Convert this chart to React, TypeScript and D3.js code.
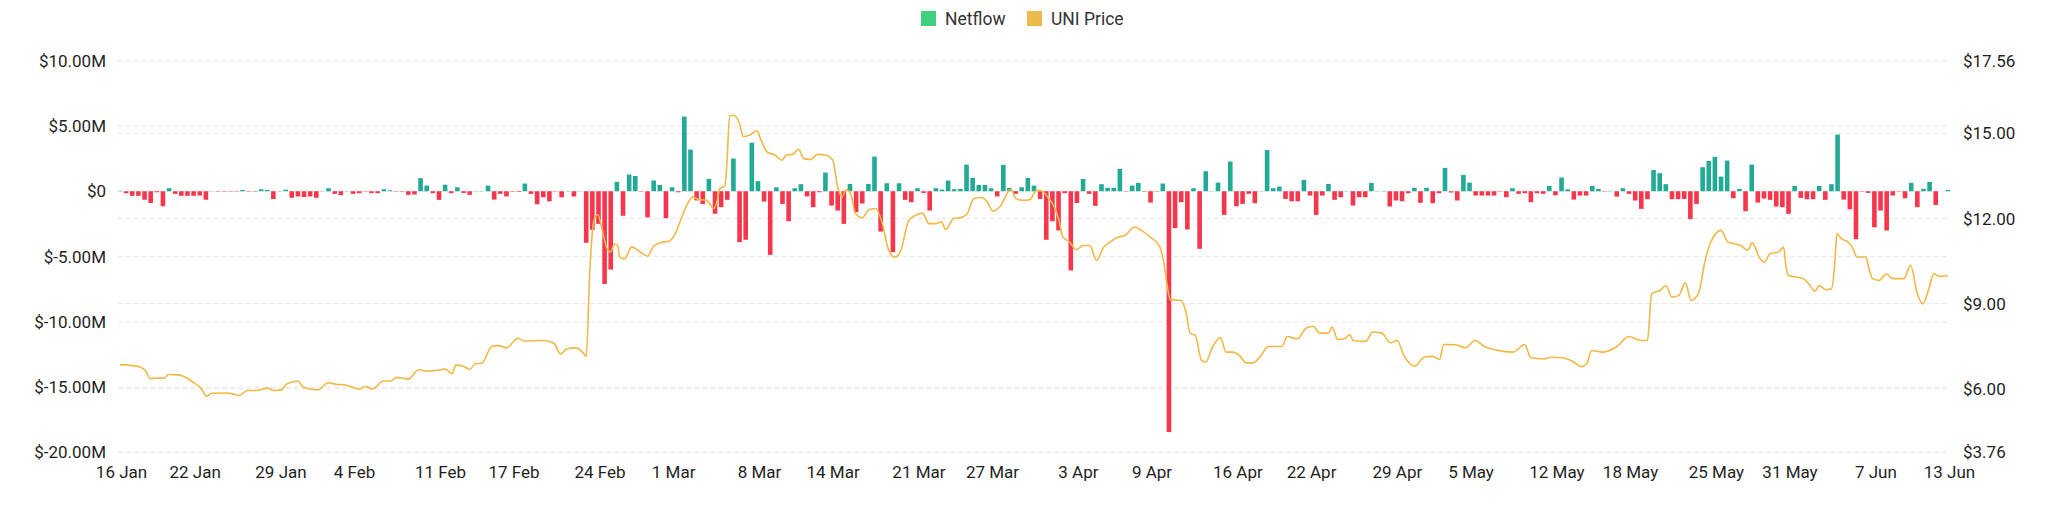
import React from "react";
import * as d3 from "d3";

// one netflow bar every 12 hours, first at 16 Jan 00:00
const START = "2024-01-16";
const END = "2024-06-13";

// Netflow, USD millions
const netflow = [
  0.03, -0.15, -0.35, -0.35, -0.65, -0.9, -0.08, -1.15, 0.23, -0.2,
  -0.35, -0.35, -0.35, -0.33, -0.65, 0.02, -0.03, -0.03, -0.03, -0.03,
  0.1, -0.03, -0.03, 0.15, 0.1, -0.6, 0.02, 0.12, -0.5, -0.4,
  -0.45, -0.4, -0.5, 0.02, 0.23, -0.2, -0.3, 0.02, -0.2, -0.15,
  -0.03, -0.15, -0.15, 0.15, 0.07, -0.03, -0.03, -0.28, -0.25, 1.0,
  0.43, -0.15, -0.66, 0.5, -0.15, 0.3, -0.13, -0.28, 0.02, 0.02,
  0.43, -0.64, -0.2, -0.4, -0.03, -0.05, 0.59, -0.2, -1.0, -0.46,
  -0.77, -0.03, -0.46, 0.02, -0.4, 0.02, -3.95, -2.96, -2.5, -7.1,
  -6.0, 0.72, -1.88, 1.28, 1.17, -0.03, -2.0, 0.82, 0.48, -2.06,
  0.3, -0.08, 5.72,
  3.19, -0.7, -0.98, 0.95, -1.73, -1.22, -0.66, 2.5, -3.9, -3.72,
  3.72, 0.77, -0.79, -4.87, 0.3, -0.97, -2.3, 0.23, 0.54, -0.4,
  -1.22, -0.08, 1.43, -1.1, -1.48, -2.5, 0.56, -1.6, -0.94, 0.56,
  2.65, -3.09, 0.61, -4.67, 0.61, -0.66, -0.84, 0.23, -0.13, -1.48,
  0.23, 0.13, 0.82, 0.15, 0.18, 2.04, 1.02, 0.48, 0.48, 0.23,
  -0.4, 2.02, 0.26, -0.2, 0.3, 1.02, 0.43, -0.59, -3.72, -2.3,
  -3.0, -0.15, -6.07, -0.9, 0.94, -0.2, -1.12, 0.54, 0.26, 0.26,
  1.71, -0.03, 0.43, 0.64, -0.03, -0.87, -0.03, 0.59, -18.45, -2.83,
  -0.84, -2.93, 0.23, -4.41, 1.53, 0.02, 0.66, -1.81, 2.27, -1.15,
  -0.97, -0.2, -0.92, 0.02, 3.16, 0.23, 0.36, -0.59, -0.77, -0.77,
  0.87, -0.33, -1.81, -0.33, 0.56, -0.66, -0.46, 0.02,
  -1.1, -0.46, -0.46, 0.64, 0.02, 0.02, -1.17, -0.71, -0.77, -0.15,
  0.26, -0.89, 0.26, -0.92, -0.15, 1.79, -0.1, -0.71, 1.25, 0.66,
  -0.33, -0.33, -0.33, -0.33, -0.03, -0.46, 0.23, -0.2, -0.15, -0.84,
  -0.15, -0.2, 0.41, -0.31, 1.05, 0.15, -0.64, -0.33, -0.33, 0.41,
  0.18, -0.03, 0.03, -0.41, 0.23, -0.2, -0.71, -1.35, -0.61, 1.63,
  1.38, 0.54, -0.61, -0.61, -0.59, -2.14, -0.97, 1.84, 2.32, 2.63,
  1.12, 2.35, -0.54, 0.18, -1.53, 2.04, -0.87, -0.56, -0.66, -1.17,
  -1.22, -1.73, 0.41, -0.51, -0.61, -0.61, 0.41, -0.66, 0.54, 4.34,
  -0.64, -1.38, -3.67, -0.03, -0.13, -2.76, -1.48, -3.01, -0.33, -0.03,
  -0.54, 0.64, -1.22, 0.18, 0.71, -1.05, 0, 0.1,
];

// UNI price: position in 12h slots, and price in USD
const priceSlot = [
  0, 1.5, 3.4, 4.3, 4.9, 5.9, 7.2, 7.9, 9.5, 10.9, 12.1, 13.2, 14.1, 15, 17.5, 18.3, 19.4,
  20.8, 22.3, 24.1, 25, 26.3, 27.2, 29, 29.9, 32.3, 33.9, 35.4, 36.6, 37.9, 39, 40, 41.2,
  42.9, 44.1, 45.1, 47, 48.7, 49.9, 51.4, 53, 54.1, 54.8, 56.1, 57, 57.9, 59, 60.6, 61.8,
  63, 64.9, 65.9, 68.9, 70.7, 71.8, 72.9, 74.3, 75.4, 76, 76.6, 77.2, 77.9, 78.5, 79.3,
  79.9, 80.7, 81.1, 81.5, 82.3, 83.4, 84.8, 86, 86.9, 88, 89.6, 90.4, 91.4, 92.4, 93.4,
  94.3, 95.6, 96.8, 97.3, 97.8, 98.6, 98.9, 99.4, 100, 101, 101.6, 102.7, 103.8, 104.5,
  105.5, 106.8, 107.9, 108.6, 109.7, 110.6, 111.5, 112.6, 113.7, 115.1, 116.2, 117, 117.7,
  118.4, 119.1, 119.9, 121, 122.1, 123.2, 124.2, 125.3, 126.3, 127.2, 128.6, 129.7, 130.8,
  131.9, 133, 133.9, 134.6, 135.9, 137, 138.1, 139.2, 140.3, 141.4, 142.3, 143.5, 145.2,
  146.1, 147.2, 148.3, 149.4, 150.3, 151.2, 152.3, 153, 153.7, 154.8, 155.9, 157, 158.1,
  159.2, 160.3, 161.4, 162.5, 163.9, 165.4, 166.5, 167.9, 169.4, 170.1, 170.8, 171.2, 173,
  173.7, 174.5, 175.3, 176.3, 177, 178.1, 179.4, 180.3, 181.4, 182.5, 183.6, 184.7, 186,
  187.2, 189.4, 190.3, 191.9, 193.4, 194.5, 195.6, 197, 197.6, 198.5, 199.6, 200.5, 201,
  203.1, 204.2, 205.7, 207.1, 208.2, 209.3, 211.1, 212.6, 214, 215.1, 215.8, 217.7, 219.3,
  220.9, 222.4, 224.2, 227.1, 229, 230, 232.2, 233.3, 235.1, 237, 238.2, 239.1, 239.9,
  241.7, 243.9, 246, 247.9, 249, 249.7, 251.1, 252, 253, 254.1, 255.2, 256.1, 257.3, 258.4,
  259.2, 261, 262.1, 264.2, 265.3, 266.1, 267.2, 268, 269, 270.4, 271.2, 271.6, 272, 274.4,
  275.5, 276.3, 277, 278.1, 279, 279.5, 279.9, 280.6, 281.7, 282.4, 283.2, 284.6, 285.2,
  285.7, 286.8, 287.9, 289, 290.8, 291.9, 293, 293.9, 294.8, 295.7, 296.6, 298,
];
const priceUsd = [
  6.85, 6.83, 6.76, 6.58, 6.35, 6.38, 6.37, 6.5, 6.49, 6.38, 6.2, 6.02, 5.74, 5.84, 5.85, 5.82, 5.76,
  5.94, 5.94, 6.02, 5.94, 5.96, 6.17, 6.27, 6.05, 5.96, 6.21, 6.15, 6.14, 6.05, 5.98, 6.08, 5.99,
  6.27, 6.27, 6.4, 6.34, 6.67, 6.62, 6.64, 6.69, 6.53, 6.84, 6.78, 6.68, 6.88, 6.9, 7.49, 7.52,
  7.44, 7.78, 7.68, 7.7, 7.61, 7.23, 7.41, 7.44, 7.29, 7.14, 10.2, 11.88, 12.14, 11.7, 11.0,
  10.82, 11.11, 11.06, 10.64, 10.58, 11.0, 10.82, 10.67, 11.0, 11.14, 11.21, 11.41, 11.94, 12.47, 12.76,
  12.67, 12.64, 12.35, 12.58, 13.06, 13.14, 13.82, 15.61, 15.64, 15.35, 14.88, 14.94, 15.09, 14.76,
  14.35, 14.23, 14.05, 14.23, 14.26, 14.44, 14.11, 14.08, 14.26, 14.23, 14.05, 13.11, 12.76,
  13.02, 12.88, 12.17, 12.03, 12.31, 12.35, 11.88, 10.88, 10.64, 10.82, 11.94, 12.11, 12.19,
  11.82, 11.82, 11.88, 11.61, 12.0, 12.03, 12.17, 12.7, 12.74, 12.58, 12.26, 12.43, 13.02,
  12.7, 12.64, 12.66, 12.99, 12.97, 12.76, 12.41, 11.99, 11.35, 11.17, 10.9, 11.05, 11.05,
  10.52, 10.97, 11.17, 11.32, 11.41, 11.7, 11.58, 11.35, 11.05, 10.52, 9.52, 9.14, 9.11,
  8.76, 7.94, 7.88, 7.0, 6.94, 7.47, 7.8, 7.29, 7.29, 7.17, 6.91, 6.91, 7.17,
  7.49, 7.49, 7.84, 7.76, 8.14, 8.2, 7.96, 7.96, 8.17, 7.74, 7.76, 7.91, 7.7,
  7.67, 8.0, 7.96, 7.62, 7.7, 7.17, 6.8, 7.11, 7.14, 7.03, 7.56, 7.55, 7.44,
  7.7, 7.49, 7.37, 7.29, 7.56, 7.09, 7.05, 7.11, 7.09, 6.94, 6.78, 6.88, 7.35,
  7.29, 7.47, 7.84, 7.7, 7.7, 9.35, 9.47, 9.64, 9.23, 9.29, 9.73, 9.11, 9.35, 10.5,
  11.11, 11.58, 11.17, 11.05, 10.88, 11.14, 10.64, 10.46, 10.76, 10.82, 10.99, 10.29, 9.99, 9.88,
  9.64, 9.44, 9.64, 9.49, 9.52, 10.3, 11.46, 11.29, 11.17, 10.99, 10.64, 10.64, 10.17,
  9.88, 9.82, 10.05, 9.88, 9.88, 10.35, 9.35, 8.99, 9.47, 10.05, 9.96, 9.99,
];

const xTickDates = [
  "2024-01-16", "2024-01-22", "2024-01-29", "2024-02-04", "2024-02-11", "2024-02-17",
  "2024-02-24", "2024-03-01", "2024-03-08", "2024-03-14", "2024-03-21", "2024-03-27",
  "2024-04-03", "2024-04-09", "2024-04-16", "2024-04-22", "2024-04-29", "2024-05-05",
  "2024-05-12", "2024-05-18", "2024-05-25", "2024-05-31", "2024-06-07", "2024-06-13",
];
const netflowTicks = [10, 5, 0, -5, -10, -15, -20];
const priceTicks = [17.56, 15, 12, 9, 6, 3.76];

const GREEN = "#22ab94";
const RED = "#f5364c";
const GOLD = "#f1b846";
const FONT = "Roboto, 'Noto Sans', sans-serif";

const parse = d3.utcParse("%Y-%m-%d");
const fmtDay = d3.utcFormat("%-d %b");

export default function App() {
  const width = 2048;
  const height = 527;
  const plot = { left: 120, right: 1948, top: 60.7, bottom: 452.3 };

  const t0 = parse(START) as Date;
  const slotTime = (s: number) => new Date(t0.getTime() + s * 12 * 3600 * 1000);

  const x = d3.scaleUtc()
    .domain([t0, parse(END) as Date])
    .range([plot.left, plot.right]);
  const yFlow = d3.scaleLinear().domain([-20, 10]).range([plot.bottom, plot.top]);
  const yPrice = d3.scaleLinear().domain([3.76, 17.56]).range([plot.bottom, plot.top]);

  const barW = 4.6;
  const zero = yFlow(0);

  const line = d3.line<number>()
    .x(i => x(slotTime(priceSlot[i])))
    .y(i => yPrice(priceUsd[i]))
    .curve(d3.curveMonotoneX);

  const flowLabel = (v: number) => (v === 0 ? "$0" : `$${v.toFixed(2)}M`);

  return (
    <svg
      width={width}
      height={height}
      style={{ position: "absolute", left: 0, top: 0, display: "block", background: "#fff" }}
      fontFamily={FONT}
    >
      {/* legend */}
      <g>
        <rect x={921} y={11} width={15} height={15} fill="#3ecf80" />
        <text x={945} y={24.5} fontSize={17.5} fill="#333">Netflow</text>
        <rect x={1027} y={11} width={15} height={15} fill="#ecb94b" />
        <text x={1051} y={24.5} fontSize={17.5} fill="#333">UNI Price</text>
      </g>

      {/* grid */}
      <g stroke="#e8e8e8" strokeWidth={1} strokeDasharray="5,3">
        {netflowTicks.map(v => (
          <line key={"l" + v} x1={plot.left - 2} x2={plot.right + 2} y1={yFlow(v)} y2={yFlow(v)} />
        ))}
        {priceTicks.map(v => (
          <line key={"r" + v} x1={plot.left - 2} x2={plot.right + 2} y1={yPrice(v)} y2={yPrice(v)} />
        ))}
      </g>

      {/* left axis */}
      <g fontSize={17} fill="#1f1f1f" textAnchor="end">
        {netflowTicks.map(v => (
          <text key={v} x={106} y={yFlow(v)} dy="0.36em">{flowLabel(v)}</text>
        ))}
      </g>

      {/* right axis */}
      <g fontSize={17} fill="#1f1f1f" textAnchor="start">
        {priceTicks.map(v => (
          <text key={v} x={1963} y={yPrice(v)} dy="0.36em">{`$${v.toFixed(2)}`}</text>
        ))}
      </g>

      {/* x axis labels */}
      <g fontSize={17} fill="#1f1f1f" textAnchor="middle">
        {xTickDates.map(d => (
          <text key={d} x={x(parse(d) as Date) + 1.5} y={478}>{fmtDay(parse(d) as Date)}</text>
        ))}
      </g>

      {/* netflow bars */}
      <g>
        {netflow.map((v, k) => {
          const y = yFlow(v);
          return (
            <rect
              key={k}
              x={x(slotTime(k)) - barW / 2}
              y={Math.min(y, zero)}
              width={barW}
              height={Math.abs(y - zero)}
              fill={v >= 0 ? GREEN : RED}
            />
          );
        })}
      </g>

      {/* price line */}
      <path
        d={line(d3.range(priceSlot.length)) ?? ""}
        fill="none"
        stroke={GOLD}
        strokeWidth={1.6}
      />
    </svg>
  );
}
